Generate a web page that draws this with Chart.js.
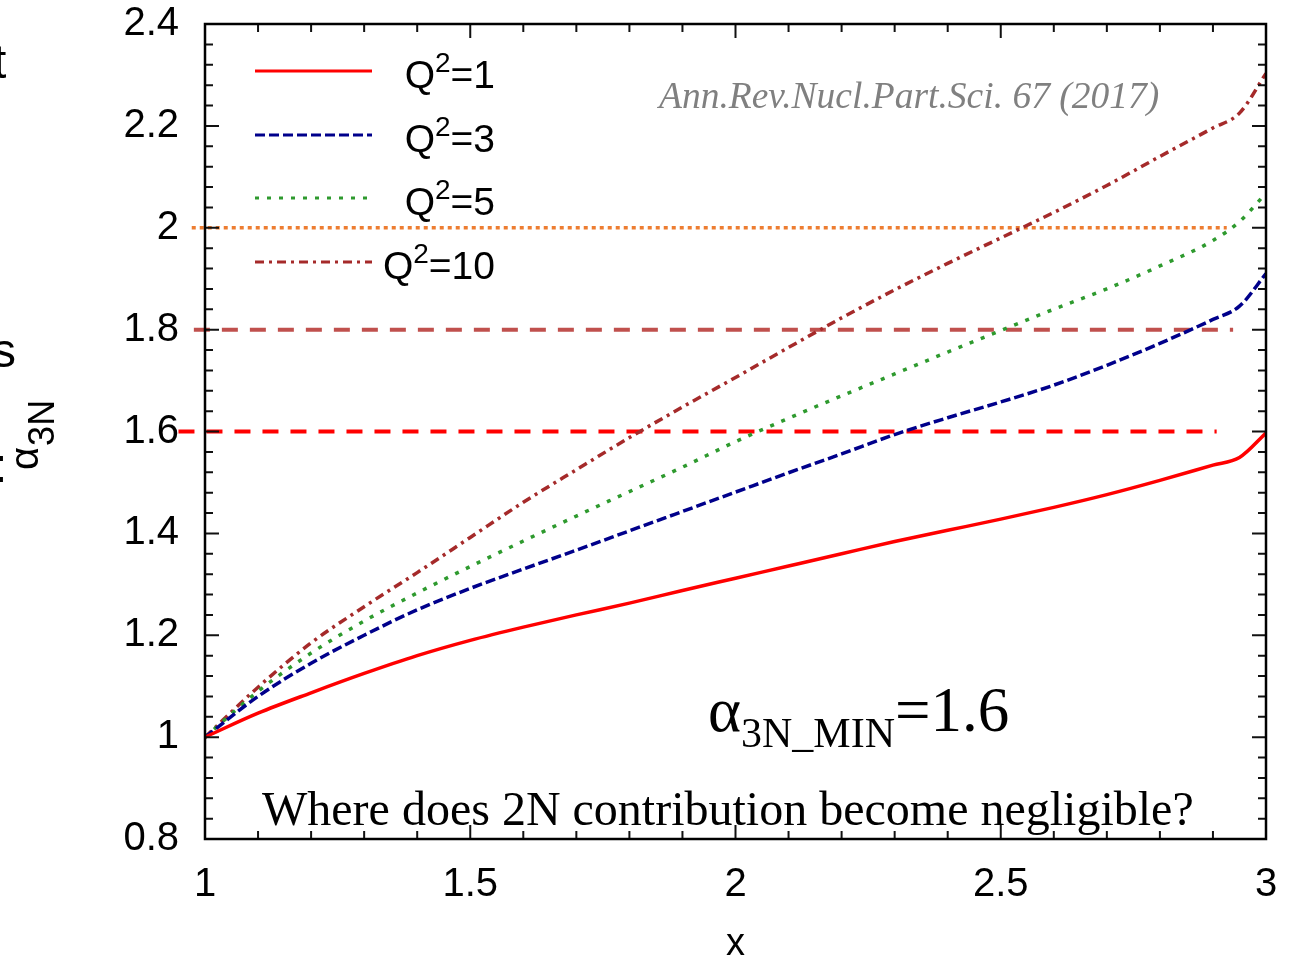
<!DOCTYPE html>
<html>
<head>
<meta charset="utf-8">
<script src="https://cdn.jsdelivr.net/npm/chart.js@4.4.1/dist/chart.umd.min.js"></script>
<style>
  html, body { margin: 0; padding: 0; background: #fff; }
  #wrap { position: relative; width: 1289px; height: 966px; }
</style>
</head>
<body>
<div id="wrap"><canvas id="chart"></canvas></div>
<script>
// x values and the four alpha_3N curves
const xValues = [1, 1.1, 1.2, 1.3, 1.4, 1.5, 1.6, 1.7, 1.8, 1.9, 2, 2.1, 2.2, 2.3, 2.4, 2.5, 2.6, 2.7, 2.8, 2.9, 2.95, 3];
const q2_1  = [1, 1.047, 1.087, 1.125, 1.16, 1.19, 1.216, 1.24, 1.263, 1.288, 1.312, 1.336, 1.36, 1.384, 1.406, 1.428, 1.451, 1.476, 1.504, 1.534, 1.549, 1.597];
const q2_3  = [1, 1.08, 1.145, 1.2, 1.25, 1.292, 1.33, 1.367, 1.405, 1.443, 1.481, 1.519, 1.556, 1.594, 1.627, 1.658, 1.691, 1.73, 1.773, 1.82, 1.846, 1.91];
const q2_5  = [1, 1.09, 1.165, 1.228, 1.283, 1.335, 1.385, 1.434, 1.482, 1.53, 1.58, 1.626, 1.67, 1.713, 1.756, 1.798, 1.84, 1.88, 1.925, 1.975, 2.012, 2.068];
const q2_10 = [1, 1.098, 1.185, 1.256, 1.323, 1.392, 1.461, 1.525, 1.588, 1.648, 1.706, 1.765, 1.823, 1.878, 1.93, 1.98, 2.03, 2.083, 2.14, 2.196, 2.225, 2.303];

const seriesLabels = ["1", "3", "5", "10"];

// hand-drawn threshold lines on the slide
const refLevels = [1.6, 1.8, 2.0];
const refStart  = [0.95, 0.979, 0.975];
const refEnd    = [2.907, 2.938, 2.926];

// axes
const xTicks = [1, 1.5, 2, 2.5, 3];
const xTickLabels = ["1", "1.5", "2", "2.5", "3"];
const yTicks = [0.8, 1, 1.2, 1.4, 1.6, 1.8, 2, 2.2, 2.4];
const yTickLabels = ["0.8", "1", "1.2", "1.4", "1.6", "1.8", "2", "2.2", "2.4"];
const xMinorStep = 0.1;
const yMinorStep = 0.04;

const toPoints = ys => xValues.map((x, i) => ({ x: x, y: ys[i] }));

const curveStyles = [
	{ color: "#ff0000", dash: [] },
	{ color: "#00008b", dash: [10, 4] },
	{ color: "#2e9a2e", dash: [4, 8] },
	{ color: "#a52a2a", dash: [9, 5, 3, 5] },
];
const refStyles = [
	{ color: "#ff0000", dash: [16, 12], width: 4 },
	{ color: "#c0504d", dash: [16, 12], width: 4 },
	{ color: "#ed7d31", dash: [4, 4], width: 3.5 },
];

const curves = [q2_1, q2_3, q2_5, q2_10].map((ys, i) => ({
	label: "Q2=" + seriesLabels[i],
	data: toPoints(ys),
	borderColor: curveStyles[i].color,
	borderDash: curveStyles[i].dash,
	borderWidth: 3.5,
	pointRadius: 0,
	cubicInterpolationMode: "monotone",
	fill: false,
}));

const refs = refLevels.map((lvl, i) => ({
	label: "ref " + lvl,
	data: [{ x: refStart[i], y: lvl }, { x: refEnd[i], y: lvl }],
	borderColor: refStyles[i].color,
	borderDash: refStyles[i].dash,
	borderWidth: refStyles[i].width,
	pointRadius: 0,
	clip: false,
	fill: false,
}));

const tickFont = { family: "'Liberation Sans', Arial, sans-serif", size: 40 };

// frame with inward major/minor ticks on all four sides, gnuplot style
const frameTicks = {
	id: "frameTicks",
	afterDatasetsDraw(chart) {
		const { ctx, chartArea: a, scales } = chart;
		const xs = scales.x, ys = scales.y;
		ctx.save();
		ctx.strokeStyle = "#111";
		ctx.lineWidth = 2;
		ctx.setLineDash([]);
		ctx.beginPath();
		for (let v = xs.min; v <= xs.max + 1e-9; v += xMinorStep) {
			const px = xs.getPixelForValue(v);
			const major = Math.abs(v * 2 - Math.round(v * 2)) < 1e-6;
			const len = major ? 14 : 8;
			ctx.moveTo(px, a.bottom); ctx.lineTo(px, a.bottom - len);
			ctx.moveTo(px, a.top); ctx.lineTo(px, a.top + len);
		}
		for (let v = ys.min; v <= ys.max + 1e-9; v += yMinorStep) {
			const py = ys.getPixelForValue(v);
			const major = Math.abs(v * 5 - Math.round(v * 5)) < 1e-6;
			const len = major ? 14 : 8;
			ctx.moveTo(a.left, py); ctx.lineTo(a.left + len, py);
			ctx.moveTo(a.right, py); ctx.lineTo(a.right - len, py);
		}
		ctx.stroke();
		ctx.lineWidth = 2.5;
		ctx.strokeStyle = "#000";
		ctx.strokeRect(a.left, a.top, a.right - a.left, a.bottom - a.top);
		ctx.restore();
	},
	afterDraw(chart) {
		const ctx = chart.ctx;
		ctx.save();
		ctx.fillStyle = "#000";
		ctx.textBaseline = "alphabetic";

		// legend
		const legY = [71, 135, 198, 262];
		const sans = "'Liberation Sans', Arial, sans-serif";
		chart.data.datasets.slice(0, 4).forEach((ds, i) => {
			ctx.strokeStyle = ds.borderColor;
			ctx.lineWidth = 3;
			ctx.setLineDash(ds.borderDash);
			ctx.beginPath();
			ctx.moveTo(255, legY[i]);
			ctx.lineTo(372, legY[i]);
			ctx.stroke();
			ctx.setLineDash([]);
			const big = "39px " + sans, small = "28px " + sans;
			ctx.font = big;
			const wQ = ctx.measureText("Q").width;
			const rest = "=" + seriesLabels[i];
			const wR = ctx.measureText(rest).width;
			ctx.font = small;
			const w2 = ctx.measureText("2").width;
			let x = 495 - (wQ + w2 + wR);
			const base = legY[i] + 17;
			ctx.font = big; ctx.fillText("Q", x, base); x += wQ;
			ctx.font = small; ctx.fillText("2", x, base - 16); x += w2;
			ctx.font = big; ctx.fillText(rest, x, base);
		});

		// y axis title: alpha_3N, rotated
		ctx.save();
		ctx.translate(38, 470);
		ctx.rotate(-Math.PI / 2);
		ctx.font = "40px " + sans;
		ctx.fillText("α", 0, 0);
		const wa = ctx.measureText("α").width;
		ctx.font = "36px " + sans;
		ctx.fillText("3N", wa + 1, 16);
		ctx.restore();

		// slide fragments cut off on the left edge
		ctx.font = "48px " + sans;
		ctx.fillText("t", -7, 78);
		ctx.fillText("s", -8, 367);
		ctx.fillText(":", -6, 482);

		// annotations
		const serif = "'Liberation Serif', 'Times New Roman', serif";
		ctx.fillStyle = "#808080";
		ctx.font = "italic 37.5px " + serif;
		ctx.fillText("Ann.Rev.Nucl.Part.Sci. 67 (2017)", 659, 108);

		ctx.fillStyle = "#000";
		let ax = 708;
		ctx.font = "63px " + serif;
		ctx.fillText("α", ax, 731);
		ax += ctx.measureText("α").width;
		ctx.font = "42px " + serif;
		ctx.fillText("3N_MIN", ax, 747);
		ax += ctx.measureText("3N_MIN").width;
		ctx.font = "63px " + serif;
		ctx.fillText("=1.6", ax, 731);

		ctx.font = "48px " + serif;
		ctx.fillText("Where does 2N contribution become negligible?", 262, 825);
		ctx.restore();
	},
};

const noPadX = s => { s.height = 127; s.paddingLeft = 0; s.paddingRight = 0; };
const noPadY = s => { s.width = 205; s.paddingTop = 0; s.paddingBottom = 0; };

new Chart(document.getElementById("chart"), {
	type: "line",
	data: { datasets: curves.concat(refs) },
	options: {
		responsive: true,
		maintainAspectRatio: false,
		animation: false,
		devicePixelRatio: 1,
		layout: { padding: { top: 24, right: 23, left: 0, bottom: 0 } },
		plugins: { legend: { display: false }, tooltip: { enabled: false } },
		scales: {
			x: {
				type: "linear",
				min: 1,
				max: 3,
				afterBuildTicks: s => { s.ticks = xTicks.map(v => ({ value: v })); },
				afterFit: noPadX,
				ticks: {
					callback: (v, i) => xTickLabels[i],
					font: tickFont,
					color: "#000",
					padding: 22,
					maxRotation: 0,
					autoSkip: false,
				},
				grid: { display: false, drawTicks: false },
				border: { display: false },
				title: {
					display: true,
					text: "x",
					font: { family: tickFont.family, size: 38, lineHeight: 1 },
					color: "#000",
					padding: { top: 0, bottom: 2 },
				},
			},
			y: {
				type: "linear",
				min: 0.8,
				max: 2.4,
				afterBuildTicks: s => { s.ticks = yTicks.map(v => ({ value: v })); },
				afterFit: noPadY,
				ticks: {
					callback: (v, i) => yTickLabels[i],
					font: tickFont,
					color: "#000",
					padding: 26,
					autoSkip: false,
				},
				grid: { display: false, drawTicks: false },
				border: { display: false },
			},
		},
	},
	plugins: [frameTicks],
});
</script>
</body>
</html>
